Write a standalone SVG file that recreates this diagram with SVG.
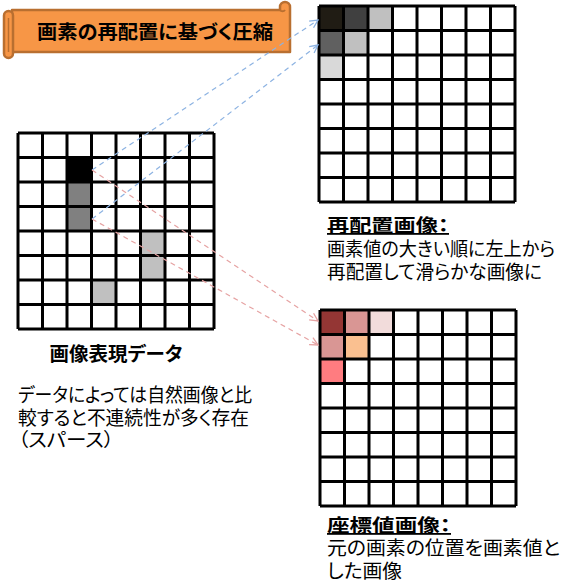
<svg xmlns="http://www.w3.org/2000/svg" width="571" height="584" viewBox="0 0 571 584">
<style>
text{font-family:"Noto Sans CJK JP","Noto Sans",sans-serif;font-feature-settings:"palt";fill:#000}
.b{font-weight:bold}
.t{font-size:19px}
.g{stroke:#000;stroke-width:3;fill:none}
.bl{stroke:#8db3e2;stroke-width:1.2;stroke-dasharray:5 4;fill:none}
.rd{stroke:#e6a3a3;stroke-width:1.2;stroke-dasharray:5 4;fill:none}
</style>
<defs>
<marker id="ab" markerUnits="userSpaceOnUse" markerWidth="12" markerHeight="12" refX="9" refY="5" orient="auto"><path d="M1,1 L9,5 L1,9" fill="none" stroke="#8db3e2" stroke-width="1.3"/></marker>
<marker id="ar" markerUnits="userSpaceOnUse" markerWidth="12" markerHeight="12" refX="9" refY="5" orient="auto"><path d="M1,1 L9,5 L1,9" fill="none" stroke="#e6a3a3" stroke-width="1.3"/></marker>
</defs>
<rect width="571" height="584" fill="#fff"/>

<g id="title">
<path d="M12,10 H280 V7 A5,5 0 0 1 290,7 V52 H12 Z" fill="#f79646" stroke="#b96f30" stroke-width="2.5" stroke-linejoin="round"/>
<path d="M280,10 A3,3 0 0 0 285,10" fill="none" stroke="#b96f30" stroke-width="2"/>
<rect x="4" y="11" width="9" height="47" rx="4.5" fill="#f79646" stroke="#b96f30" stroke-width="2.5"/>
<line x1="8.5" y1="18" x2="8.5" y2="52" stroke="#b96f30" stroke-width="1.5"/>
<text x="37" y="39" class="b t" textLength="236" lengthAdjust="spacingAndGlyphs">画素の再配置に基づく圧縮</text>
</g>

<g id="source">
<rect x="18" y="133" width="196" height="196" fill="#fff"/>
<rect x="67" y="157.5" width="24.5" height="24.5" fill="#000"/>
<rect x="67" y="182" width="24.5" height="24.5" fill="#808080"/>
<rect x="67" y="206.5" width="24.5" height="24.5" fill="#808080"/>
<rect x="140.5" y="231" width="24.5" height="24.5" fill="#c0c0c0"/>
<rect x="140.5" y="255.5" width="24.5" height="24.5" fill="#c0c0c0"/>
<rect x="91.5" y="280" width="24.5" height="24.5" fill="#c0c0c0"/>
<path class="g" d="M18,133 V329 M42.5,133 V329 M67,133 V329 M91.5,133 V329 M116,133 V329 M140.5,133 V329 M165,133 V329 M189.5,133 V329 M214,133 V329 M18,133 H214 M18,157.5 H214 M18,182 H214 M18,206.5 H214 M18,231 H214 M18,255.5 H214 M18,280 H214 M18,304.5 H214 M18,329 H214"/>
<text x="116" y="361" class="b" font-size="19" text-anchor="middle" textLength="133" lengthAdjust="spacingAndGlyphs">画像表現データ</text>
<text x="18" y="402" font-size="19" textLength="234" lengthAdjust="spacingAndGlyphs">データによっては自然画像と比</text>
<text x="18" y="425" font-size="19" textLength="231" lengthAdjust="spacingAndGlyphs">較すると不連続性が多く存在</text>
<text x="18" y="447" font-size="19" textLength="96" lengthAdjust="spacingAndGlyphs">（スパース）</text>
</g>

<g id="rearranged">
<rect x="319" y="6" width="196" height="196" fill="#fff"/>
<rect x="319" y="6" width="24.5" height="24.5" fill="#201c14"/>
<rect x="343.5" y="6" width="24.5" height="24.5" fill="#404040"/>
<rect x="368" y="6" width="24.5" height="24.5" fill="#c0c0c0"/>
<rect x="319" y="30.5" width="24.5" height="24.5" fill="#606060"/>
<rect x="343.5" y="30.5" width="24.5" height="24.5" fill="#c0c0c0"/>
<rect x="319" y="55" width="24.5" height="24.5" fill="#d9d9d9"/>
<path class="g" d="M319,6 V202 M343.5,6 V202 M368,6 V202 M392.5,6 V202 M417,6 V202 M441.5,6 V202 M466,6 V202 M490.5,6 V202 M515,6 V202 M319,6 H515 M319,30.5 H515 M319,55 H515 M319,79.5 H515 M319,104 H515 M319,128.5 H515 M319,153 H515 M319,177.5 H515 M319,202 H515"/>
<text x="327" y="232" class="b" font-size="18" text-decoration="underline" textLength="122" lengthAdjust="spacingAndGlyphs">再配置画像：</text>
<text x="327" y="256" font-size="19" textLength="228" lengthAdjust="spacingAndGlyphs">画素値の大きい順に左上から</text>
<text x="327" y="279" font-size="19" textLength="215" lengthAdjust="spacingAndGlyphs">再配置して滑らかな画像に</text>
</g>

<g id="coords">
<rect x="320" y="310" width="196" height="196" fill="#fff"/>
<rect x="320" y="310" width="24.5" height="24.5" fill="#943634"/>
<rect x="344.5" y="310" width="24.5" height="24.5" fill="#d99694"/>
<rect x="369" y="310" width="24.5" height="24.5" fill="#f2dcdb"/>
<rect x="320" y="334.5" width="24.5" height="24.5" fill="#d99694"/>
<rect x="344.5" y="334.5" width="24.5" height="24.5" fill="#fac090"/>
<rect x="320" y="359" width="24.5" height="24.5" fill="#ff7c80"/>
<path class="g" d="M320,310 V506 M344.5,310 V506 M369,310 V506 M393.5,310 V506 M418,310 V506 M442.5,310 V506 M467,310 V506 M491.5,310 V506 M516,310 V506 M320,310 H516 M320,334.5 H516 M320,359 H516 M320,383.5 H516 M320,408 H516 M320,432.5 H516 M320,457 H516 M320,481.5 H516 M320,506 H516"/>
<text x="327" y="532" class="b" font-size="18" text-decoration="underline" textLength="124" lengthAdjust="spacingAndGlyphs">座標値画像：</text>
<text x="327" y="555" font-size="19" textLength="233" lengthAdjust="spacingAndGlyphs">元の画素の位置を画素値と</text>
<text x="327" y="578" font-size="19" textLength="75" lengthAdjust="spacingAndGlyphs">した画像</text>
</g>

<g id="connectors">
<line class="bl" x1="92" y1="170" x2="318" y2="20" marker-end="url(#ab)"/>
<line class="bl" x1="92" y1="219" x2="318" y2="45" marker-end="url(#ab)"/>
<line class="rd" x1="92" y1="170" x2="318" y2="321" marker-end="url(#ar)"/>
<line class="rd" x1="92" y1="219" x2="318" y2="345" marker-end="url(#ar)"/>
</g>
</svg>
